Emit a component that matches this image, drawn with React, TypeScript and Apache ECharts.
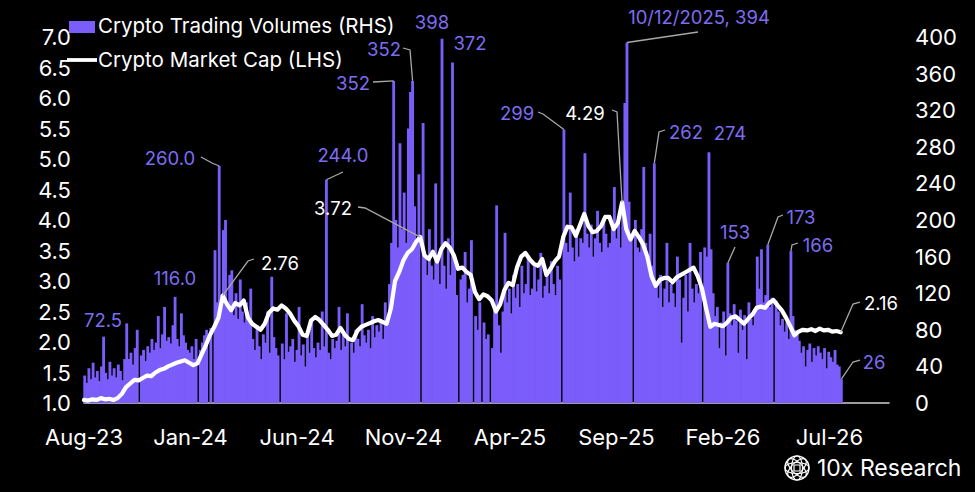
import React, { useEffect, useRef } from "react";
import * as echarts from "echarts";

// ---------- data ----------
// x axis: days counted from the "Aug-23" tick; one label every 152 days (5 months)
const xTickLabels = ["Aug-23", "Jan-24", "Jun-24", "Nov-24", "Apr-25", "Sep-25", "Feb-26", "Jul-26"];
const TICK_DAYS = 152;
const AXIS_MAX_DAYS = 1149;

// Crypto trading volumes (RHS), one reading every 3 days starting at day 1
const VOL_START = 1;
const VOL_STEP = 3;
const volumes = [
  30, 22, 38, 26, 44, 28, 35, 24, 40, 72.5,
  33, 26, 45, 30, 38, 28, 42, 35, 25, 48,
  87, 48, 55, 42, 60, 80, 0, 52, 58, 46,
  62, 55, 70, 58, 66, 95, 60, 75, 105, 68,
  72, 65, 85, 116, 70, 62, 98, 74, 66, 58,
  55, 62, 48, 70, 0, 58, 66, 74, 80, 0,
  82, 0, 167, 110, 259, 118, 189, 200, 105, 140,
  145, 96, 120, 92, 135, 100, 88, 110, 95, 125,
  70, 58, 85, 62, 48, 75, 66, 100, 55, 138,
  72, 60, 52, 0, 65, 48, 98, 56, 62, 70,
  45, 58, 105, 52, 64, 40, 72, 55, 90, 60,
  50, 66, 58, 100, 62, 244, 55, 48, 70, 60,
  68, 105, 58, 75, 62, 98, 0, 66, 55, 80,
  70, 62, 108, 74, 66, 80, 60, 95, 72, 85,
  78, 92, 70, 110, 88, 130, 175, 352, 200, 170,
  284, 190, 230, 175, 300, 340, 352, 215, 180, 250,
  0, 306, 160, 140, 190, 150, 135, 240, 155, 130,
  398, 150, 125, 180, 140, 372, 160, 118, 0, 135,
  140, 165, 110, 125, 178, 0, 95, 80, 110, 0,
  88, 70, 75, 0, 60, 105, 216, 85, 55, 100,
  186, 110, 125, 98, 140, 115, 130, 105, 150, 120,
  130, 160, 118, 125, 150, 122, 135, 164, 115, 128,
  140, 120, 155, 130, 118, 150, 135, 0, 299, 175,
  165, 230, 170, 155, 190, 160, 180, 175, 273, 185,
  170, 195, 160, 180, 210, 175, 165, 200, 185, 170,
  175, 190, 236, 180, 200, 170, 210, 328, 394, 220,
  180, 0, 200, 170, 165, 190, 258, 175, 160, 185,
  150, 262, 130, 115, 140, 105, 125, 175, 110, 130,
  120, 105, 160, 135, 66, 115, 140, 100, 175, 125,
  110, 130, 120, 165, 0, 170, 160, 274, 168, 120,
  95, 105, 60, 88, 100, 52, 153, 98, 85, 108,
  90, 55, 102, 80, 96, 48, 110, 92, 85, 100,
  160, 125, 168, 110, 118, 173, 105, 115, 0, 112,
  100, 85, 92, 78, 88, 70, 166, 95, 80, 75,
  68, 55, 62, 40, 58, 65, 45, 60, 52, 62,
  55, 48, 60, 38, 56, 50, 45, 58, 42, 40,
  26,
];

// Crypto market cap (LHS, $tn), one reading every 6 days starting at day 0
const MCAP_STEP = 6;
const marketCap = [
  1.05, 1.04, 1.06, 1.05, 1.08, 1.06, 1.07, 1.05, 1.08, 1.15,
  1.26, 1.32, 1.38, 1.37, 1.41, 1.45, 1.44, 1.5, 1.54, 1.56,
  1.6, 1.63, 1.66, 1.68, 1.7, 1.66, 1.62, 1.65, 1.8, 1.95,
  2.12, 2.25, 2.4, 2.76, 2.62, 2.52, 2.64, 2.6, 2.68, 2.4,
  2.3, 2.25, 2.2, 2.3, 2.48, 2.55, 2.53, 2.6, 2.55, 2.47,
  2.35, 2.26, 2.12, 2.1, 2.35, 2.41, 2.36, 2.28, 2.2, 2.1,
  2.12, 2.23, 2.12, 2.05, 2.03, 2.18, 2.25, 2.28, 2.31, 2.34,
  2.36, 2.33, 2.3, 2.55, 3.0, 3.15, 3.34, 3.46, 3.52, 3.64,
  3.72, 3.42, 3.36, 3.48, 3.32, 3.52, 3.62, 3.55, 3.42, 3.2,
  3.22, 3.15, 3.1, 2.82, 2.7, 2.78, 2.75, 2.68, 2.5, 2.62,
  2.85, 2.97, 2.93, 3.22, 3.4, 3.46, 3.36, 3.28, 3.25, 3.36,
  3.1, 3.2, 3.32, 3.4, 3.72, 3.89, 3.88, 3.74, 3.92, 4.1,
  3.9, 3.8, 3.82, 3.9, 4.05, 4.05, 3.85, 3.95, 4.29, 3.85,
  3.68, 3.82, 3.72, 3.6, 3.4, 3.08, 2.92, 3.02, 3.05, 3.05,
  2.98, 3.06, 3.1, 3.14, 3.18, 3.22, 3.08, 2.88, 2.55, 2.25,
  2.3, 2.28, 2.26, 2.32, 2.4, 2.42, 2.36, 2.3, 2.38, 2.45,
  2.56, 2.58, 2.56, 2.64, 2.69, 2.6, 2.52, 2.4, 2.26, 2.11,
  2.17, 2.2, 2.19, 2.21, 2.18, 2.22, 2.19, 2.2, 2.17, 2.18, 2.16,
];

const VOL_NAME = "Crypto Trading Volumes (RHS)";
const MCAP_NAME = "Crypto Market Cap (LHS)";

// ---------- styling ----------
const FONT = "Inter, 'Noto Sans', sans-serif";
const BAR_COLOR = "#7b5dfb";
const LABEL_PURPLE = "#7d6cf2";
const WHITE = "#ffffff";
const LEADER = "#a8a8a8";

type Ann = {
  text: string;
  color: string;
  x: number;
  y: number;
  leader?: number[][];
  anchor?: { series: 0 | 1; index: number };
};

// annotation labels (label positions in px, anchors refer to data points)
const annotations: Ann[] = [
  { text: "72.5", color: LABEL_PURPLE, x: 103, y: 320 },
  { text: "116.0", color: LABEL_PURPLE, x: 175, y: 278 },
  { text: "260.0", color: LABEL_PURPLE, x: 170, y: 158, leader: [[201, 157], [212, 163]], anchor: { series: 0, index: 64 } },
  { text: "2.76", color: WHITE, x: 280, y: 263, leader: [[254, 259], [248, 261]], anchor: { series: 1, index: 33 } },
  { text: "244.0", color: LABEL_PURPLE, x: 343, y: 155, leader: [[343, 172]], anchor: { series: 0, index: 115 } },
  { text: "352", color: LABEL_PURPLE, x: 353, y: 83, leader: [[373, 82]], anchor: { series: 0, index: 147 } },
  { text: "352", color: LABEL_PURPLE, x: 384, y: 49, leader: [[403, 48], [410, 50]], anchor: { series: 0, index: 156 } },
  { text: "3.72", color: WHITE, x: 333, y: 208, leader: [[358, 207], [365, 208]], anchor: { series: 1, index: 80 } },
  { text: "398", color: LABEL_PURPLE, x: 432, y: 22 },
  { text: "372", color: LABEL_PURPLE, x: 470, y: 43 },
  { text: "299", color: LABEL_PURPLE, x: 517, y: 113, leader: [[538, 112], [543, 114]], anchor: { series: 0, index: 228 } },
  { text: "4.29", color: WHITE, x: 585, y: 113, leader: [[612, 110], [617, 112]], anchor: { series: 1, index: 128 } },
  { text: "10/12/2025, 394", color: LABEL_PURPLE, x: 699, y: 17, leader: [[698, 32]], anchor: { series: 0, index: 258 } },
  { text: "262", color: LABEL_PURPLE, x: 686, y: 132, leader: [[665, 130], [659, 132]], anchor: { series: 0, index: 271 } },
  { text: "274", color: LABEL_PURPLE, x: 730, y: 133 },
  { text: "153", color: LABEL_PURPLE, x: 735, y: 232, leader: [[735, 247]], anchor: { series: 0, index: 306 } },
  { text: "173", color: LABEL_PURPLE, x: 801, y: 217, leader: [[783, 215], [778, 217]], anchor: { series: 0, index: 325 } },
  { text: "166", color: LABEL_PURPLE, x: 818, y: 245, leader: [[798, 243], [792, 245]], anchor: { series: 0, index: 336 } },
  { text: "2.16", color: WHITE, x: 881, y: 303, leader: [[860, 302], [853, 304]], anchor: { series: 1, index: 180 } },
  { text: "26", color: LABEL_PURPLE, x: 874, y: 362, leader: [[860, 360], [853, 362]], anchor: { series: 0, index: 360 } },
];

function textEl(text: string, x: number, y: number, fill: string, fontSize: number, align = "center") {
  return {
    type: "text",
    x,
    y,
    z: 100,
    silent: true,
    style: {
      text,
      fill,
      fontSize,
      fontFamily: FONT,
      align,
      textAlign: align,
      verticalAlign: "middle",
      textVerticalAlign: "middle",
    },
  };
}

export default function App() {
  const ref = useRef<HTMLDivElement>(null);

  useEffect(() => {
    const el = ref.current;
    if (!el) return;
    const chart = echarts.init(el, null, { renderer: "svg" });

    const volData = volumes.map((v, i) => [VOL_START + VOL_STEP * i, v]);
    const mcapData = marketCap.map((v, j) => [MCAP_STEP * j, v]);

    const axisLabelStyle = { color: WHITE, fontSize: 22, fontFamily: FONT };

    chart.setOption({
      animation: false,
      backgroundColor: "#000000",
      grid: { left: 84, right: 86, top: 37, bottom: 89, containLabel: false },
      xAxis: {
        type: "value",
        min: 0,
        max: AXIS_MAX_DAYS,
        interval: TICK_DAYS,
        axisLine: { show: true, lineStyle: { color: "#d0d0d0", width: 1.5 } },
        axisTick: { show: false },
        splitLine: { show: false },
        axisLabel: {
          ...axisLabelStyle,
          margin: 23,
          showMaxLabel: false,
          formatter: (v: number) => {
            const k = Math.round(v / TICK_DAYS);
            return Math.abs(v - k * TICK_DAYS) < 0.5 && k < xTickLabels.length ? xTickLabels[k] : "";
          },
        },
      },
      yAxis: [
        {
          type: "value",
          position: "left",
          min: 1,
          max: 7,
          interval: 0.5,
          axisLine: { show: false },
          axisTick: { show: false },
          splitLine: { show: false },
          axisLabel: { ...axisLabelStyle, margin: 13, formatter: (v: number) => v.toFixed(1) },
        },
        {
          type: "value",
          position: "right",
          min: 0,
          max: 400,
          interval: 40,
          axisLine: { show: false },
          axisTick: { show: false },
          splitLine: { show: false },
          axisLabel: { ...axisLabelStyle, margin: 26 },
        },
      ],
      series: [
        {
          name: VOL_NAME,
          type: "bar",
          yAxisIndex: 1,
          data: volData,
          barCategoryGap: "-35%",
          barMinWidth: 2.8,
          itemStyle: { color: BAR_COLOR },
          z: 1,
        },
        {
          name: MCAP_NAME,
          type: "line",
          yAxisIndex: 0,
          data: mcapData,
          symbol: "none",
          showSymbol: false,
          lineStyle: { color: WHITE, width: 4.2, join: "round", cap: "round" },
          z: 3,
        },
      ],
    });

    const graphics: any[] = [];
    // legend
    graphics.push({ type: "rect", shape: { x: 69, y: 21, width: 26, height: 12 }, style: { fill: BAR_COLOR }, z: 100 });
    graphics.push(textEl(VOL_NAME, 98, 25, WHITE, 20.5, "left"));
    graphics.push({ type: "line", shape: { x1: 67, y1: 60, x2: 97, y2: 60 }, style: { stroke: WHITE, lineWidth: 3.8 }, z: 100 });
    graphics.push(textEl(MCAP_NAME, 98, 59, WHITE, 20.5, "left"));

    // annotations
    for (const a of annotations) {
      graphics.push(textEl(a.text, a.x, a.y, a.color, 18.5));
      if (a.anchor) {
        const s = a.anchor.series;
        const point = s === 0 ? volData[a.anchor.index] : mcapData[a.anchor.index];
        const p = chart.convertToPixel({ seriesIndex: s }, point) as number[];
        const pts = [...(a.leader || []), p];
        graphics.push({
          type: "polyline",
          z: 99,
          silent: true,
          shape: { points: pts },
          style: { stroke: LEADER, lineWidth: 1.3, fill: "none" },
        });
      }
    }

    // 10x Research logo
    const cx = 797;
    const cy = 468;
    const logoStyle = { stroke: WHITE, fill: "none", lineWidth: 1.1 };
    graphics.push({ type: "circle", shape: { cx, cy, r: 12 }, style: { ...logoStyle, lineWidth: 1.4 }, z: 100 });
    [0, Math.PI / 4, Math.PI / 2, (3 * Math.PI) / 4].forEach((rot) => {
      graphics.push({
        type: "ellipse",
        x: cx,
        y: cy,
        rotation: rot,
        shape: { cx: 0, cy: 0, rx: 12, ry: 5.5 },
        style: logoStyle,
        z: 100,
      });
    });
    graphics.push({ type: "rect", x: cx, y: cy, shape: { x: -3, y: -3, width: 6, height: 6 }, style: { stroke: WHITE, fill: "#000", lineWidth: 1.2 }, z: 101 });
    graphics.push(textEl("10x Research", 817, 468, WHITE, 23, "left"));

    chart.setOption({ graphic: graphics });

    return () => chart.dispose();
  }, []);

  return (
    <div
      ref={ref}
      style={{ position: "fixed", left: 0, top: 0, width: 975, height: 492, background: "#000" }}
    />
  );
}
